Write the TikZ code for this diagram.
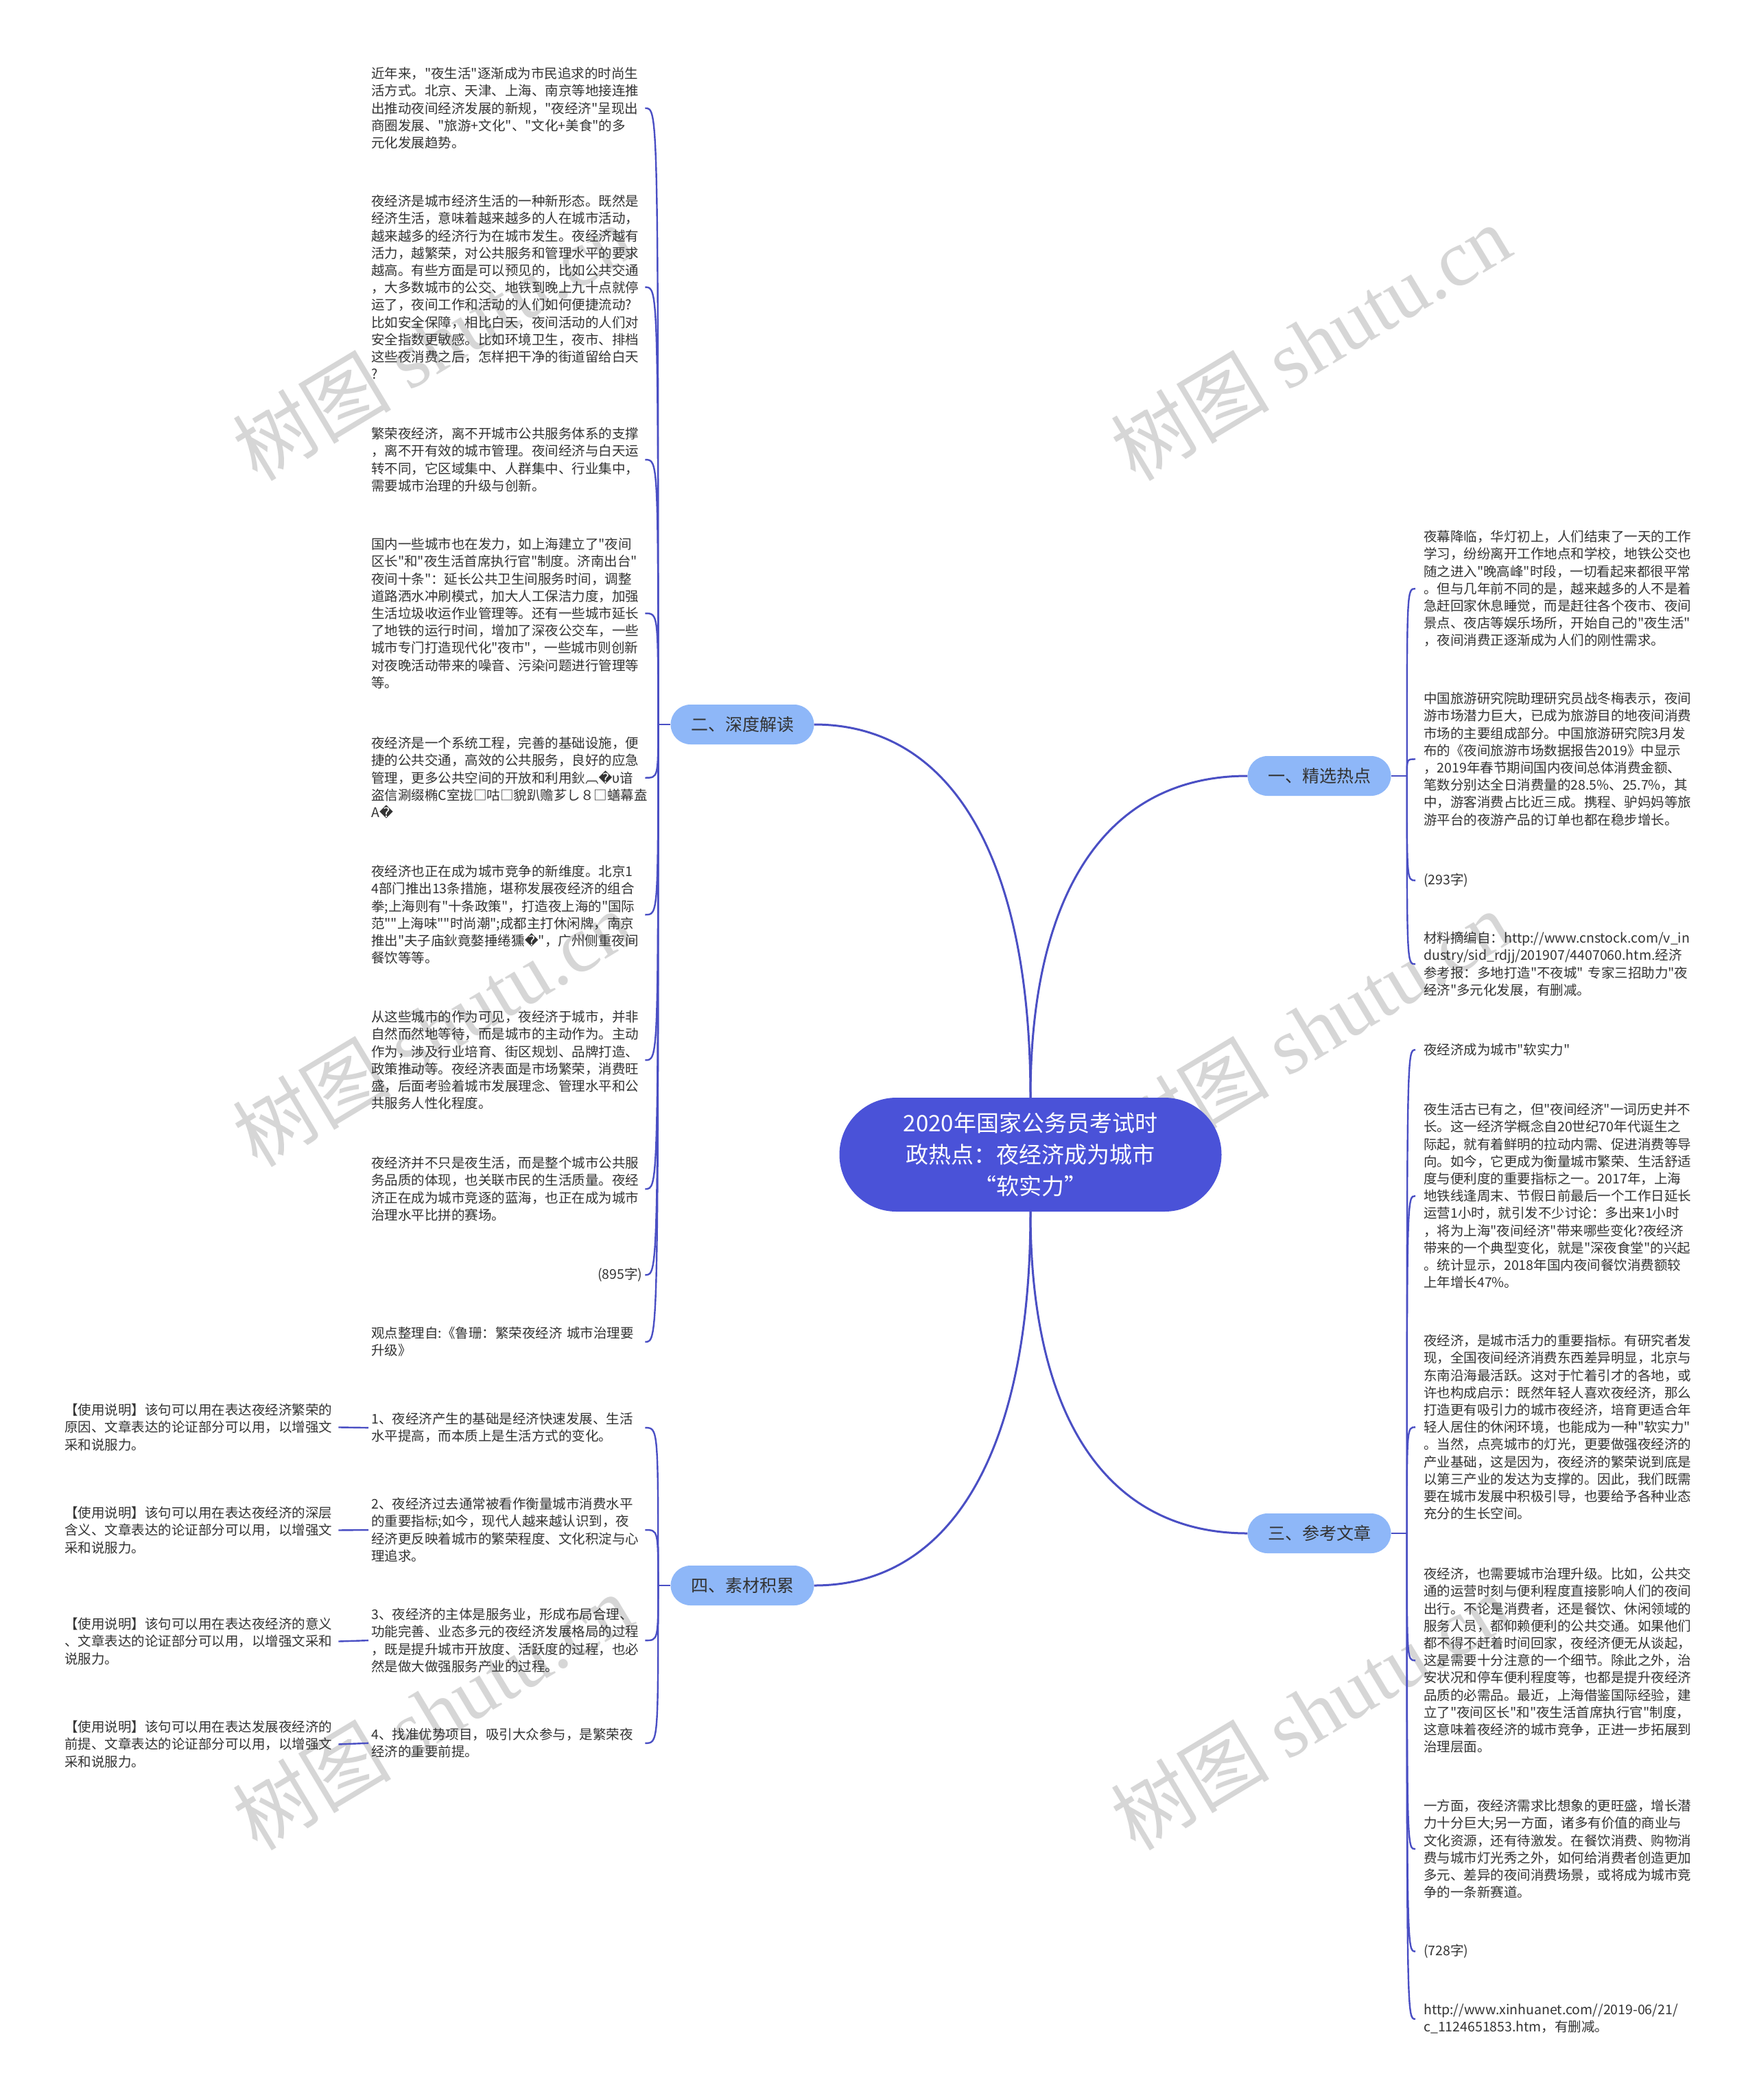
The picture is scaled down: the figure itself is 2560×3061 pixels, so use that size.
\documentclass[tikz,border=0pt]{standalone}
\usepackage{fontspec}
\newfontfamily\cjk{Noto Sans CJK SC}
\newfontfamily\djv{DejaVu Sans}
\newfontfamily\wmserif{Liberation Serif}
\hyphenpenalty=10000
\exhyphenpenalty=10000
\definecolor{lnc}{HTML}{4A4FC4}
\definecolor{hub}{HTML}{4A52D8}
\definecolor{br}{HTML}{8EB7F8}
\definecolor{tx}{HTML}{333333}
\definecolor{wm}{HTML}{D6D6D6}
\newcommand{\rc}{{\djv\char"FFFD}}
\begin{document}
\begin{tikzpicture}[x=1pt,y=-1pt,
 txt/.style={anchor=north west, text width=395pt, align=left, inner xsep=4pt, inner ysep=0pt, font=\cjk\fontsize{19.5}{25.2}\selectfont, text=tx},
 txtR/.style={txt, inner xsep=12pt},
 branch/.style={fill=br, rounded corners=29pt, minimum width=209pt, minimum height=58pt, inner sep=0pt, font=\cjk\fontsize{25}{30}\selectfont, text=tx},
 hubnode/.style={fill=hub, rounded corners=83pt, minimum width=557pt, minimum height=166pt, inner sep=0pt, align=center, font=\cjk\fontsize{33}{46}\selectfont, text=white},
 link/.style={draw=lnc, line width=2.4pt},
 mainlink/.style={draw=lnc, line width=3pt},
 wmark/.style={text=wm, rotate=31, anchor=south west, inner sep=0pt, font=\cjk\fontsize{116}{120}\selectfont}]
\useasboundingbox (0,0) rectangle (2560,3061);
\fill[white] (0,0) rectangle (2560,3061);

% watermarks
\node[wmark] (w1) at (380,712) {树图 {\wmserif shutu.cn}};
\node[wmark] (w2) at (1660,712) {树图 {\wmserif shutu.cn}};
\node[wmark] (w3) at (380,1712) {树图 {\wmserif shutu.cn}};
\node[wmark] (w4) at (1660,1712) {树图 {\wmserif shutu.cn}};
\node[wmark] (w5) at (380,2708) {树图 {\wmserif shutu.cn}};
\node[wmark] (w6) at (1660,2708) {树图 {\wmserif shutu.cn}};

% center and branches
\node[hubnode] (C) at (1502,1683) {2020年国家公务员考试时\\政热点：夜经济成为城市\\“软实力”};
\node[branch] (b1) at (1923,1131) {一、精选热点};
\node[branch] (b2) at (1082,1056) {二、深度解读};
\node[branch] (b3) at (1923,2235) {三、参考文章};
\node[branch] (b4) at (1082,2311) {四、素材积累};

% left column (二)
\node[txt] (L1) at (537,98) {近年来，"夜生活"逐渐成为市民追求的时尚生\\活方式。北京、天津、上海、南京等地接连推\\出推动夜间经济发展的新规，"夜经济"呈现出\\商圈发展、"旅游+文化"、"文化+美食"的多\\元化发展趋势。};
\node[txt] (L2) at (537,284) {夜经济是城市经济生活的一种新形态。既然是\\经济生活，意味着越来越多的人在城市活动，\\越来越多的经济行为在城市发生。夜经济越有\\活力，越繁荣，对公共服务和管理水平的要求\\越高。有些方面是可以预见的，比如公共交通\\，大多数城市的公交、地铁到晚上九十点就停\\运了，夜间工作和活动的人们如何便捷流动?\\比如安全保障，相比白天，夜间活动的人们对\\安全指数更敏感。比如环境卫生，夜市、排档\\这些夜消费之后，怎样把干净的街道留给白天\\?};
\node[txt] (L3) at (537,623) {繁荣夜经济，离不开城市公共服务体系的支撑\\，离不开有效的城市管理。夜间经济与白天运\\转不同，它区域集中、人群集中、行业集中，\\需要城市治理的升级与创新。};
\node[txt] (L4) at (537,784) {国内一些城市也在发力，如上海建立了"夜间\\区长"和"夜生活首席执行官"制度。济南出台"\\夜间十条"：延长公共卫生间服务时间，调整\\道路洒水冲刷模式，加大人工保洁力度，加强\\生活垃圾收运作业管理等。还有一些城市延长\\了地铁的运行时间，增加了深夜公交车，一些\\城市专门打造现代化"夜市"，一些城市则创新\\对夜晚活动带来的噪音、污染问题进行管理等\\等。};
\node[txt] (L5) at (537,1074) {夜经济是一个系统工程，完善的基础设施，便\\捷的公共交通，高效的公共服务，良好的应急\\管理，更多公共空间的开放和利用鈥︹\rc υ谙\\盗信涮缀椭C室拢□咕□貌趴赡芗し８□蟮幕盍\\A\rc};
\node[txt] (L6) at (537,1261) {夜经济也正在成为城市竞争的新维度。北京1\\4部门推出13条措施，堪称发展夜经济的组合\\拳;上海则有"十条政策"，打造夜上海的"国际\\范""上海味""时尚潮";成都主打休闲牌，南京\\推出"夫子庙鈥竟嫯捶绻獯\rc"，广州侧重夜间\\餐饮等等。};
\node[txt] (L7) at (537,1473) {从这些城市的作为可见，夜经济于城市，并非\\自然而然地等待，而是城市的主动作为。主动\\作为，涉及行业培育、街区规划、品牌打造、\\政策推动等。夜经济表面是市场繁荣，消费旺\\盛，后面考验着城市发展理念、管理水平和公\\共服务人性化程度。};
\node[txt] (L8) at (537,1686) {夜经济并不只是夜生活，而是整个城市公共服\\务品质的体现，也关联市民的生活质量。夜经\\济正在成为城市竞逐的蓝海，也正在成为城市\\治理水平比拼的赛场。};
\node[txt, align=right] (L9) at (537,1848) {(895字)};
\node[txt] (L10) at (537,1934) {观点整理自:《鲁珊：繁荣夜经济~城市治理要\\升级》};

% right column (一)
\node[txtR] (R1) at (2063,773) {夜幕降临，华灯初上，人们结束了一天的工作\\学习，纷纷离开工作地点和学校，地铁公交也\\随之进入"晚高峰"时段，一切看起来都很平常\\。但与几年前不同的是，越来越多的人不是着\\急赶回家休息睡觉，而是赶往各个夜市、夜间\\景点、夜店等娱乐场所，开始自己的"夜生活"\\，夜间消费正逐渐成为人们的刚性需求。};
\node[txtR] (R2) at (2063,1009) {中国旅游研究院助理研究员战冬梅表示，夜间\\游市场潜力巨大，已成为旅游目的地夜间消费\\市场的主要组成部分。中国旅游研究院3月发\\布的《夜间旅游市场数据报告2019》中显示\\，2019年春节期间国内夜间总体消费金额、\\笔数分别达全日消费量的28.5\%、25.7\%，其\\中，游客消费占比近三成。携程、驴妈妈等旅\\游平台的夜游产品的订单也都在稳步增长。};
\node[txtR] (R3) at (2063,1273) {(293字)};
\node[txtR] (R4) at (2063,1358) {材料摘编自：http://www.cnstock.com/v\_in\\dustry/sid\_rdjj/201907/4407060.htm.经济\\参考报：多地打造"不夜城"~专家三招助力"夜\\经济"多元化发展，有删减。};

% right column (三)
\node[txtR] (R5) at (2063,1521) {夜经济成为城市"软实力"};
\node[txtR] (R6) at (2063,1608) {夜生活古已有之，但"夜间经济"一词历史并不\\长。这一经济学概念自20世纪70年代诞生之\\际起，就有着鲜明的拉动内需、促进消费等导\\向。如今，它更成为衡量城市繁荣、生活舒适\\度与便利度的重要指标之一。2017年，上海\\地铁线逢周末、节假日前最后一个工作日延长\\运营1小时，就引发不少讨论：多出来1小时\\，将为上海"夜间经济"带来哪些变化?夜经济\\带来的一个典型变化，就是"深夜食堂"的兴起\\。统计显示，2018年国内夜间餐饮消费额较\\上年增长47\%。};
\node[txtR] (R7) at (2063,1945) {夜经济，是城市活力的重要指标。有研究者发\\现，全国夜间经济消费东西差异明显，北京与\\东南沿海最活跃。这对于忙着引才的各地，或\\许也构成启示：既然年轻人喜欢夜经济，那么\\打造更有吸引力的城市夜经济，培育更适合年\\轻人居住的休闲环境，也能成为一种"软实力"\\。当然，点亮城市的灯光，更要做强夜经济的\\产业基础，这是因为，夜经济的繁荣说到底是\\以第三产业的发达为支撑的。因此，我们既需\\要在城市发展中积极引导，也要给予各种业态\\充分的生长空间。};
\node[txtR] (R8) at (2063,2285) {夜经济，也需要城市治理升级。比如，公共交\\通的运营时刻与便利程度直接影响人们的夜间\\出行。不论是消费者，还是餐饮、休闲领域的\\服务人员，都仰赖便利的公共交通。如果他们\\都不得不赶着时间回家，夜经济便无从谈起，\\这是需要十分注意的一个细节。除此之外，治\\安状况和停车便利程度等，也都是提升夜经济\\品质的必需品。最近，上海借鉴国际经验，建\\立了"夜间区长"和"夜生活首席执行官"制度，\\这意味着夜经济的城市竞争，正进一步拓展到\\治理层面。};
\node[txtR] (R9) at (2063,2623) {一方面，夜经济需求比想象的更旺盛，增长潜\\力十分巨大;另一方面，诸多有价值的商业与\\文化资源，还有待激发。在餐饮消费、购物消\\费与城市灯光秀之外，如何给消费者创造更加\\多元、差异的夜间消费场景，或将成为城市竞\\争的一条新赛道。};
\node[txtR] (R10) at (2063,2834) {(728字)};
\node[txtR] (R11) at (2063,2921) {http://www.xinhuanet.com//2019-06/21/\\c\_1124651853.htm，有删减。};

% bottom left (四)
\node[txt] (I1) at (537,2059) {1、夜经济产生的基础是经济快速发展、生活\\水平提高，而本质上是生活方式的变化。};
\node[txt] (I2) at (537,2183) {2、夜经济过去通常被看作衡量城市消费水平\\的重要指标;如今，现代人越来越认识到，夜\\经济更反映着城市的繁荣程度、文化积淀与心\\理追求。};
\node[txt] (I3) at (537,2344) {3、夜经济的主体是服务业，形成布局合理、\\功能完善、业态多元的夜经济发展格局的过程\\，既是提升城市开放度、活跃度的过程，也必\\然是做大做强服务产业的过程。};
\node[txt] (I4) at (537,2519) {4、找准优势项目，吸引大众参与，是繁荣夜\\经济的重要前提。};
\node[txt] (U1) at (90,2046) {【使用说明】该句可以用在表达夜经济繁荣的\\原因、文章表达的论证部分可以用，以增强文\\采和说服力。};
\node[txt] (U2) at (90,2196) {【使用说明】该句可以用在表达夜经济的深层\\含义、文章表达的论证部分可以用，以增强文\\采和说服力。};
\node[txt] (U3) at (90,2358) {【使用说明】该句可以用在表达夜经济的意义\\、文章表达的论证部分可以用，以增强文采和\\说服力。};
\node[txt] (U4) at (90,2508) {【使用说明】该句可以用在表达发展夜经济的\\前提、文章表达的论证部分可以用，以增强文\\采和说服力。};

% main connectors
\draw[mainlink] (C.north) .. controls +(0,-350) and +(200,0) .. (b2.east);
\draw[mainlink] (C.north) .. controls +(0,-300) and +(-205,0) .. (b1.west);
\draw[mainlink] (C.south) .. controls +(0,300) and +(-205,0) .. (b3.west);
\draw[mainlink] (C.south) .. controls +(0,350) and +(200,0) .. (b4.east);

% branch stubs
\coordinate (b2s) at ([xshift=-18pt]b2.west);
\coordinate (b4s) at ([xshift=-18pt]b4.west);
\coordinate (b1s) at ([xshift=23pt]b1.east);
\coordinate (b3s) at ([xshift=23pt]b3.east);
\draw[link] (b2.west) -- (b2s);
\draw[link] (b4.west) -- (b4s);
\draw[link] (b1.east) -- (b1s);
\draw[link] (b3.east) -- (b3s);

\foreach \n in {L1,L2,L3,L4,L5,L6,L7,L8,L9,L10}
  \draw[link] (b2s) .. controls (b2s |- \n.east) .. (\n.east);
\foreach \n in {I1,I2,I3,I4}
  \draw[link] (b4s) .. controls (b4s |- \n.east) .. (\n.east);
\foreach \n in {R1,R2,R3,R4}
  \draw[link] (b1s) .. controls (b1s |- \n.west) .. (\n.west);
\foreach \n in {R5,R6,R7,R8,R9,R10,R11}
  \draw[link] (b3s) .. controls (b3s |- \n.west) .. (\n.west);

\draw[link] (I1.west) -- (U1.east);
\draw[link] (I2.west) -- (U2.east);
\draw[link] (I3.west) -- (U3.east);
\draw[link] (I4.west) -- (U4.east);
\end{tikzpicture}
\end{document}
